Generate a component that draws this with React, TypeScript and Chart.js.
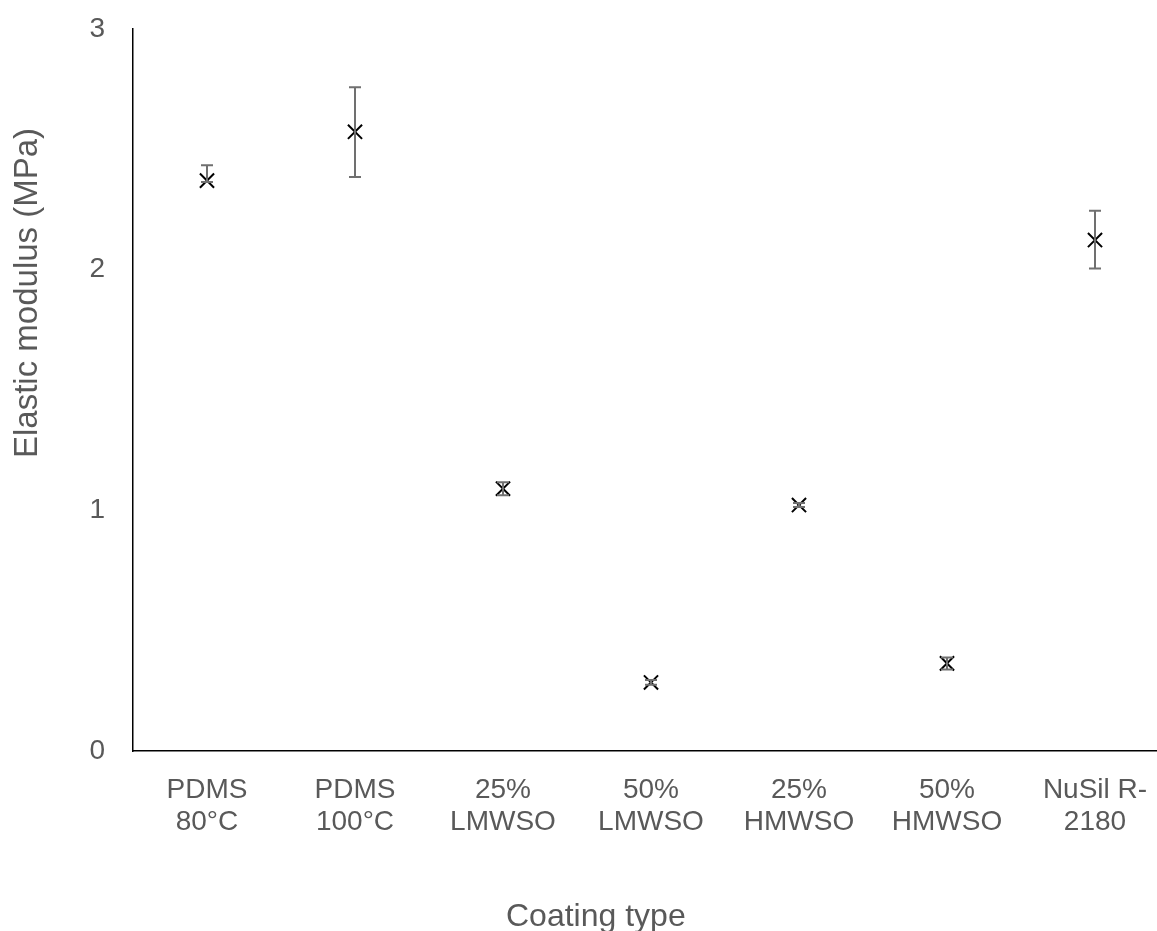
import React, { useEffect, useRef } from "react";
import { Chart, registerables } from "chart.js";

Chart.register(...registerables);

const categories: string[][] = [
  ["PDMS", "80°C"],
  ["PDMS", "100°C"],
  ["25%", "LMWSO"],
  ["50%", "LMWSO"],
  ["25%", "HMWSO"],
  ["50%", "HMWSO"],
  ["NuSil R-", "2180"],
];
const modulus: number[] = [2.37, 2.573, 1.09, 0.285, 1.022, 0.364, 2.123];
const errPlus: number[] = [0.064, 0.185, 0.027, 0.01, 0.008, 0.025, 0.122];
const errMinus: number[] = [0.006, 0.188, 0.027, 0.01, 0.008, 0.025, 0.118];
const yTicks: number[] = [0, 1, 2, 3];
const xTitle = "Coating type";
const yTitle = "Elastic modulus (MPa)";

const FONT = "'Liberation Sans', Arial, sans-serif";
const GREY = "#595959";

const errorBarPlugin = {
  id: "errorBars",
  afterDatasetsDraw(chart: any) {
    const ctx = chart.ctx;
    const xs = chart.scales.x;
    const ys = chart.scales.y;
    ctx.save();
    ctx.strokeStyle = "#707070";
    ctx.lineWidth = 2;
    modulus.forEach((v, i) => {
      const x = xs.getPixelForValue(i);
      const yTop = ys.getPixelForValue(v + errPlus[i]);
      const yBot = ys.getPixelForValue(v - errMinus[i]);
      ctx.beginPath();
      ctx.moveTo(x, yTop);
      ctx.lineTo(x, yBot);
      ctx.moveTo(x - 6, yTop);
      ctx.lineTo(x + 6, yTop);
      ctx.moveTo(x - 6, yBot);
      ctx.lineTo(x + 6, yBot);
      ctx.stroke();
    });
    ctx.restore();
  },
};

const stretchPlugin = {
  id: "stretchRight",
  afterLayout(chart: any) {
    const xs = chart.scales.x;
    const right = chart.width;
    xs.right = right;
    xs.width = right - xs.left;
    xs.configure();
    chart.chartArea.right = right;
    chart.chartArea.width = right - chart.chartArea.left;
  },
};

// Axis titles placed as in the reference (which are not centred on the axes)
const axisTitlePlugin = {
  id: "axisTitles",
  afterDraw(chart: any) {
    const ctx = chart.ctx;
    ctx.save();
    ctx.fillStyle = GREY;
    ctx.textAlign = "left";
    ctx.textBaseline = "alphabetic";
    ctx.font = `32px ${FONT}`;
    ctx.fillText(xTitle, 506, 926);
    ctx.font = `33px ${FONT}`;
    ctx.translate(37, 458);
    ctx.rotate(-Math.PI / 2);
    ctx.fillText(yTitle, 0, 0);
    ctx.restore();
  },
};

export default function App() {
  const ref = useRef<HTMLCanvasElement | null>(null);
  useEffect(() => {
    if (!ref.current) return;
    const chart = new Chart(ref.current, {
      type: "scatter",
      data: {
        datasets: [
          {
            data: modulus.map((v, i) => ({ x: i, y: v })),
            pointStyle: "crossRot",
            pointRadius: 10,
            pointBorderWidth: 2,
            borderColor: "#000",
            backgroundColor: "#000",
            pointHoverRadius: 10,
          },
        ],
      },
      options: {
        responsive: false,
        animation: false,
        events: [],
        layout: { padding: { top: 29, right: 0, left: 0, bottom: 0 } },
        plugins: { legend: { display: false }, tooltip: { enabled: false } },
        scales: {
          x: {
            type: "linear",
            min: -0.5,
            max: -0.5 + 1024 / 148,
            afterFit: (s: any) => {
              s.height = 180;
              s.paddingLeft = 0;
              s.paddingRight = 0;
            },
            afterBuildTicks: (s: any) => {
              s.ticks = categories.map((_, i) => ({ value: i }));
            },
            grid: { display: false, drawTicks: false },
            border: { display: true, color: "#000", width: 1.5 },
            ticks: {
              padding: 23,
              maxRotation: 0,
              autoSkip: false,
              color: GREY,
              font: { family: FONT, size: 28, lineHeight: 1.15 },
              callback: (v: any) => categories[v as number] ?? "",
            },
            title: { display: false },
          },
          y: {
            min: 0,
            max: 3,
            afterFit: (s: any) => {
              s.width = 133;
              s.paddingTop = 0;
              s.paddingBottom = 0;
            },
            afterBuildTicks: (s: any) => {
              s.ticks = yTicks.map((v) => ({ value: v }));
            },
            grid: { display: false, drawTicks: false },
            border: { display: true, color: "#000", width: 1.5 },
            ticks: {
              padding: 28,
              color: GREY,
              font: { family: FONT, size: 28, lineHeight: 1.2 },
            },
            title: { display: false },
          },
        },
      },
      plugins: [errorBarPlugin, stretchPlugin, axisTitlePlugin],
    });
    return () => chart.destroy();
  }, []);
  return (
    <div style={{ position: "fixed", left: 0, top: 0, width: 1157, height: 931, background: "#fff" }}>
      <canvas ref={ref} width={1157} height={931} />
    </div>
  );
}
